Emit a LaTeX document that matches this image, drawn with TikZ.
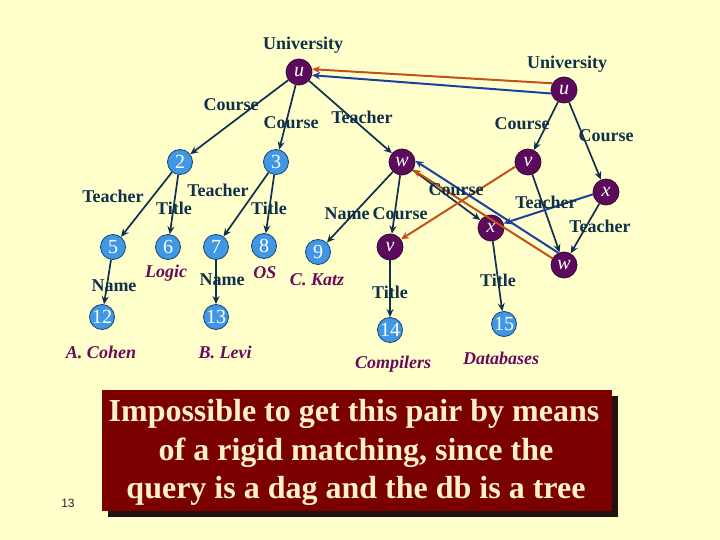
\documentclass[tikz,border=0pt]{standalone}
\usepackage{fontspec}
\setmainfont{Liberation Serif}
\setsansfont{Liberation Sans}
\usetikzlibrary{arrows.meta}
\definecolor{bg}{HTML}{FFFFCC}
\definecolor{dbfill}{HTML}{4098E4}
\definecolor{dbline}{HTML}{1A4070}
\definecolor{qfill}{HTML}{5C0A5C}
\definecolor{qline}{HTML}{3A063A}
\definecolor{lblc}{HTML}{0F2F4A}
\definecolor{valc}{HTML}{6A0A5C}
\definecolor{edgec}{HTML}{103050}
\definecolor{mapor}{HTML}{C4501A}
\definecolor{mapbl}{HTML}{1C3FA0}
\definecolor{boxc}{HTML}{7B0000}
\definecolor{shadc}{HTML}{241212}
\definecolor{boxtext}{HTML}{FFF2C8}
\begin{document}
\begin{tikzpicture}[x=1pt,y=-1pt,
 dbn/.style={circle,fill=dbfill,draw=dbline,line width=0.8pt,minimum size=25pt,inner sep=0pt,text=white,font=\fontsize{20}{20}\selectfont},
 qn/.style={circle,fill=qfill,draw=qline,line width=0.8pt,minimum size=26pt,inner sep=0pt,text=white,font=\fontsize{20}{20}\selectfont\itshape},
 lbl/.style={text=lblc,font=\fontsize{18}{18}\selectfont\bfseries,inner sep=0pt},
 val/.style={text=valc,font=\fontsize{18}{18}\selectfont\bfseries\itshape,inner sep=0pt},
 edge/.style={draw=edgec,line width=1.7pt,-{Stealth[length=8pt,width=7pt]}},
 mapo/.style={draw=mapor,line width=2pt,-{Stealth[length=8pt,width=7pt]}},
 mapb/.style={draw=mapbl,line width=2pt,-{Stealth[length=8pt,width=7pt]}},
 boxtxt/.style={text=boxtext,font=\fontsize{32}{32}\selectfont\bfseries,inner sep=0pt},
]
\useasboundingbox (0,0) rectangle (720,540);
\fill[bg] (0,0) rectangle (720,540);

% left tree (database)
\node[qn] (lu) at (299,72) {u};
\node[dbn] (n2) at (180,162) {2};
\node[dbn] (n3) at (276,162) {3};
\node[qn] (lw) at (402,162) {w};
\node[dbn] (n5) at (113,247) {5};
\node[dbn] (n6) at (168,247) {6};
\node[dbn] (n7) at (216,247) {7};
\node[dbn] (n8) at (264,246) {8};
\node[dbn] (n9) at (318,252) {9};
\node[qn] (lv) at (390,247) {v};
\node[qn] (lx) at (491,228) {x};
\node[dbn] (n12) at (102,317) {12};
\node[dbn] (n13) at (216,317) {13};
\node[dbn] (n14) at (390,330) {14};
\node[dbn] (n15) at (504,324) {15};

% right query
\node[qn] (ru) at (564,90) {u};
\node[qn] (rv) at (528,162) {v};
\node[qn] (rx) at (606,192) {x};
\node[qn] (rw) at (564,265) {w};

% edges
\draw[edge] (lu) -- (n2);
\draw[edge] (lu) -- (n3);
\draw[edge] (lu) -- (lw);
\draw[edge] (n2) -- (n5);
\draw[edge] (n2) -- (n6);
\draw[edge] (n3) -- (n7);
\draw[edge] (n3) -- (n8);
\draw[edge] (lw) -- (n9);
\draw[edge] (lw) -- (lv);
\draw[edge] (lw) -- (lx);
\draw[edge] (n5) -- (n12);
\draw[edge] (n7) -- (n13);
\draw[edge] (lv) -- (n14);
\draw[edge] (lx) -- (n15);
\draw[edge] (ru) -- (rv);
\draw[edge] (ru) -- (rx);
\draw[edge] (rv) -- (rw);
\draw[edge] (rx) -- (rw);

% mapping arrows
\draw[mapo] (ru.150) -- (lu.12);
\draw[mapb] (ru.195) -- (lu.-14);
\draw[mapo] (rv.200) -- (lv.35);
\draw[mapb] (rx.190) -- (lx.20);
\draw[mapo] (rw.150) -- (lw.-35);
\draw[mapb] (rw.115) -- (lw.5);

% labels left
\node[lbl] (tU1) at (303,45) {University};
\node[lbl] (tC1) at (231,105) {Course};
\node[lbl] (tC2) at (291,123) {Course};
\node[lbl] (tT1) at (362,117) {Teacher};
\node[lbl] (tT2) at (113,196) {Teacher};
\node[lbl] (tTi1) at (174,208) {Title};
\node[lbl] (tT3) at (218,190) {Teacher};
\node[lbl] (tTi2) at (269,208) {Title};
\node[lbl] (tN1) at (347,214) {Name};
\node[lbl] (tC3) at (400,214) {Course};
\node[lbl] (tC4) at (456,190) {Course};
\node[lbl] (tN2) at (114,286) {Name};
\node[lbl] (tN3) at (222,280) {Name};
\node[lbl] (tTi3) at (390,292) {Title};
\node[lbl] (tTi4) at (498,280) {Title};
\node[val] (vL) at (166,273) {Logic};
\node[val] (vO) at (265,273) {OS};
\node[val] (vK) at (317,280) {C. Katz};
\node[val] (vA) at (101,352) {A. Cohen};
\node[val] (vB) at (225,352) {B. Levi};
\node[val] (vCo) at (393,364) {Compilers};
\node[val] (vD) at (501,358) {Databases};

% labels right
\node[lbl] (tU2) at (567,64) {University};
\node[lbl] (tC5) at (522,124) {Course};
\node[lbl] (tC6) at (606,136) {Course};
\node[lbl] (tT4) at (546,202) {Teacher};
\node[lbl] (tT5) at (600,226) {Teacher};

% bottom box
\fill[shadc] (108,396) rectangle (618,517);
\fill[boxc] (102,390) rectangle (612,511);
\node[boxtxt] (b1) at (354,414) {Impossible to get this pair by means};
\node[boxtxt] (b2) at (356,453) {of a rigid matching, since the};
\node[boxtxt] (b3) at (356,491) {query is a dag and the db is a tree};

\node[text=black!85,font=\sffamily\fontsize{12}{12}\selectfont,inner sep=0pt] (pg) at (68,503) {13};
\end{tikzpicture}
\end{document}
